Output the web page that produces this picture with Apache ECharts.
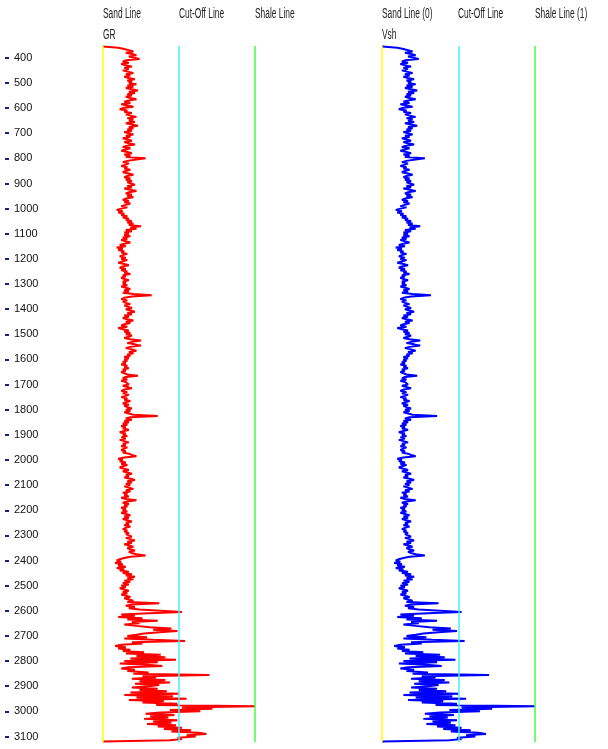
<!DOCTYPE html>
<html>
<head>
<meta charset="utf-8">
<script src="https://cdn.jsdelivr.net/npm/echarts@6/dist/echarts.min.js"></script>
<style>
html,body{margin:0;padding:0;background:#fff;}
#chart{width:608px;height:749px;}
</style>
</head>
<body>
<div id="chart"></div>
<script>
// Depth sampling of the log curves
const DEPTH_START = 355;
const DEPTH_STEP = 5;

// Depth tick labels
const depthTicks = [400,500,600,700,800,900,1000,1100,1200,1300,1400,1500,1600,1700,1800,1900,2000,2100,2200,2300,2400,2500,2600,2700,2800,2900,3000,3100];

// Reference lines
const grLineValues = [20, 70, 120];          // Sand, Cut-Off, Shale (GR track)
const vshLineValues = [0, 0.5, 1];           // Sand (0), Cut-Off, Shale (1)
const lineNamesLeft = ['Sand Line', 'Cut-Off Line', 'Shale Line'];
const lineNamesRight = ['Sand Line (0)', 'Cut-Off Line', 'Shale Line (1)'];

// GR curve values (depth 355 .. 3120, step 5)
const grValues = [
20,30,34,37,40,35,39,42,37,
36,44,35,33,37,32,35,39,34,37,33,36,40,35,38,34,37,41,36,39,
37,42,36,40,35,39,43,37,41,36,39,35,38,42,37,34,38,32,36,40,
33,31,36,34,39,35,38,42,36,40,37,41,35,39,43,37,40,36,39,34,
37,40,35,38,33,36,39,34,37,41,36,33,38,35,32,36,39,34,38,35,
48,42,36,33,37,35,32,36,34,38,35,33,37,40,36,34,38,35,39,36,
37,41,36,39,34,38,42,37,35,39,36,40,35,33,37,34,38,35,32,36,
32,29,33,30,34,32,36,33,37,35,39,36,40,37,45,38,42,35,39,34,
37,34,38,33,36,32,35,38,34,31,35,29,33,30,34,32,36,33,31,35,
32,36,33,30,34,37,33,31,35,32,36,34,38,33,35,32,34,37,33,35,
33,36,32,35,38,34,37,33,40,52,39,34,32,36,33,35,38,34,36,39,
35,38,41,36,39,34,37,33,36,40,35,38,34,32,36,30,33,37,34,38,
35,39,37,34,38,45,39,36,41,45,38,35,39,42,37,40,36,38,34,37,
34,36,33,35,32,36,34,37,33,35,32,34,36,43,35,33,36,32,35,34,
37,33,36,39,34,32,36,33,37,35,32,36,34,38,35,33,37,34,36,39,
35,38,34,37,40,56,38,35,39,34,37,33,36,32,35,33,37,34,31,35,
33,36,32,35,31,34,37,33,35,32,36,34,32,35,33,37,39,42,34,30,
33,31,35,32,36,33,31,34,37,33,36,39,35,37,34,38,41,36,39,35,
38,34,37,40,35,38,33,36,34,37,32,35,42,36,33,37,34,36,32,35,
33,36,32,35,38,34,37,33,36,39,35,37,34,38,35,33,36,34,37,35,
36,39,35,38,41,36,39,34,37,40,36,38,41,37,39,42,48,38,34,31,
29,32,28,33,30,35,29,34,31,37,33,39,35,41,36,40,34,38,33,37,
32,35,31,34,37,33,36,32,35,38,34,37,40,36,57,39,35,41,37,44,
44,72,50,32,41,30,46,36,56,39,44,34,42,51,65,53,69,57,47,42,
36,49,34,53,74,39,46,32,28,35,30,38,33,47,35,58,42,61,38,68,
34,56,31,49,59,37,32,41,36,50,40,90,46,55,39,61,44,64,41,57,
50,39,56,44,62,38,70,34,66,42,75,37,60,46,69,55,120,72,92,64,
84,58,48,67,51,63,47,69,53,65,49,68,56,72,60,78,65,83,88,75,
81,69,72,64,20
];

// Vsh curve values (depth 355 .. 3120, step 5)
const vshValues = [
0,0.10,0.14,0.17,0.20,0.15,0.19,0.22,0.17,
0.16,0.24,0.15,0.13,0.17,0.12,0.15,0.19,0.14,0.17,0.13,0.16,0.20,0.15,0.18,0.14,0.17,0.21,0.16,0.19,
0.17,0.22,0.16,0.20,0.15,0.19,0.23,0.17,0.21,0.16,0.19,0.15,0.18,0.22,0.17,0.14,0.18,0.12,0.16,0.20,
0.13,0.11,0.16,0.14,0.19,0.15,0.18,0.22,0.16,0.20,0.17,0.21,0.15,0.19,0.23,0.17,0.20,0.16,0.19,0.14,
0.17,0.20,0.15,0.18,0.13,0.16,0.19,0.14,0.17,0.21,0.16,0.13,0.18,0.15,0.12,0.16,0.19,0.14,0.18,0.15,
0.28,0.22,0.16,0.13,0.17,0.15,0.12,0.16,0.14,0.18,0.15,0.13,0.17,0.20,0.16,0.14,0.18,0.15,0.19,0.16,
0.17,0.21,0.16,0.19,0.14,0.18,0.22,0.17,0.15,0.19,0.16,0.20,0.15,0.13,0.17,0.14,0.18,0.15,0.12,0.16,
0.12,0.09,0.13,0.10,0.14,0.12,0.16,0.13,0.17,0.15,0.19,0.16,0.20,0.17,0.25,0.18,0.22,0.15,0.19,0.14,
0.17,0.14,0.18,0.13,0.16,0.12,0.15,0.18,0.14,0.11,0.15,0.09,0.13,0.10,0.14,0.12,0.16,0.13,0.11,0.15,
0.12,0.16,0.13,0.10,0.14,0.17,0.13,0.11,0.15,0.12,0.16,0.14,0.18,0.13,0.15,0.12,0.14,0.17,0.13,0.15,
0.13,0.16,0.12,0.15,0.18,0.14,0.17,0.13,0.20,0.32,0.19,0.14,0.12,0.16,0.13,0.15,0.18,0.14,0.16,0.19,
0.15,0.18,0.21,0.16,0.19,0.14,0.17,0.13,0.16,0.20,0.15,0.18,0.14,0.12,0.16,0.10,0.13,0.17,0.14,0.18,
0.15,0.19,0.17,0.14,0.18,0.25,0.19,0.16,0.21,0.25,0.18,0.15,0.19,0.22,0.17,0.20,0.16,0.18,0.14,0.17,
0.14,0.16,0.13,0.15,0.12,0.16,0.14,0.17,0.13,0.15,0.12,0.14,0.16,0.23,0.15,0.13,0.16,0.12,0.15,0.14,
0.17,0.13,0.16,0.19,0.14,0.12,0.16,0.13,0.17,0.15,0.12,0.16,0.14,0.18,0.15,0.13,0.17,0.14,0.16,0.19,
0.15,0.18,0.14,0.17,0.20,0.36,0.18,0.15,0.19,0.14,0.17,0.13,0.16,0.12,0.15,0.13,0.17,0.14,0.11,0.15,
0.13,0.16,0.12,0.15,0.11,0.14,0.17,0.13,0.15,0.12,0.16,0.14,0.12,0.15,0.13,0.17,0.19,0.22,0.14,0.10,
0.13,0.11,0.15,0.12,0.16,0.13,0.11,0.14,0.17,0.13,0.16,0.19,0.15,0.17,0.14,0.18,0.21,0.16,0.19,0.15,
0.18,0.14,0.17,0.20,0.15,0.18,0.13,0.16,0.14,0.17,0.12,0.15,0.22,0.16,0.13,0.17,0.14,0.16,0.12,0.15,
0.13,0.16,0.12,0.15,0.18,0.14,0.17,0.13,0.16,0.19,0.15,0.17,0.14,0.18,0.15,0.13,0.16,0.14,0.17,0.15,
0.16,0.19,0.15,0.18,0.21,0.16,0.19,0.14,0.17,0.20,0.16,0.18,0.21,0.17,0.19,0.22,0.28,0.18,0.14,0.11,
0.09,0.12,0.08,0.13,0.10,0.15,0.09,0.14,0.11,0.17,0.13,0.19,0.15,0.21,0.16,0.20,0.14,0.18,0.13,0.17,
0.12,0.15,0.11,0.14,0.17,0.13,0.16,0.12,0.15,0.18,0.14,0.17,0.20,0.16,0.37,0.19,0.15,0.21,0.17,0.24,
0.24,0.52,0.30,0.12,0.21,0.10,0.26,0.16,0.36,0.19,0.24,0.14,0.22,0.31,0.45,0.33,0.49,0.37,0.27,0.22,
0.16,0.29,0.14,0.33,0.54,0.19,0.26,0.12,0.08,0.15,0.10,0.18,0.13,0.27,0.15,0.38,0.22,0.41,0.18,0.48,
0.14,0.36,0.11,0.29,0.39,0.17,0.12,0.21,0.16,0.30,0.20,0.70,0.26,0.35,0.19,0.41,0.24,0.44,0.21,0.37,
0.30,0.19,0.36,0.24,0.42,0.18,0.50,0.14,0.46,0.22,0.55,0.17,0.40,0.26,0.49,0.35,1.00,0.52,0.72,0.44,
0.64,0.38,0.28,0.47,0.31,0.43,0.27,0.49,0.33,0.45,0.29,0.48,0.36,0.52,0.40,0.58,0.45,0.63,0.68,0.55,
0.61,0.49,0.52,0.44,0
];

const lineColors = ['#ffff00', '#40f0ff', '#40ff40'];
const FONT = '"Liberation Sans", Arial, sans-serif';

const grData = grValues.map((v, i) => [v, DEPTH_START + i * DEPTH_STEP]);
const vshData = vshValues.map((v, i) => [v, DEPTH_START + i * DEPTH_STEP]);

const DMIN = 353, DMAX = 3122;

function markLines(vals) {
  return {
    silent: true,
    symbol: 'none',
    label: { show: false },
    animation: false,
    data: vals.map((v, k) => ({ xAxis: v, lineStyle: { color: lineColors[k], width: 1.5, type: 'solid' } }))
  };
}

function headText(t, x, y) {
  return { type: 'text', x: x, y: y, scaleX: 0.6, scaleY: 1,
    style: { text: t, fontSize: 14, fontFamily: FONT, fill: '#222', textVerticalAlign: 'top', verticalAlign: 'top' } };
}

const graphics = [];
const leftX = [103, 179, 255];
const rightX = [382, 458, 535];
lineNamesLeft.forEach((t, k) => graphics.push(headText(t, leftX[k], 7)));
lineNamesRight.forEach((t, k) => graphics.push(headText(t, rightX[k], 7)));
graphics.push(headText('GR', 103, 28));
graphics.push(headText('Vsh', 382, 28));

const chart = echarts.init(document.getElementById('chart'), null, { renderer: 'canvas' });
chart.setOption({
  backgroundColor: '#ffffff',
  animation: false,
  graphic: graphics,
  grid: [
    { left: 103, top: 46, width: 152, height: 696 },
    { left: 382, top: 46, width: 153, height: 696 }
  ],
  xAxis: [
    { gridIndex: 0, type: 'value', min: grLineValues[0], max: grLineValues[2], show: false },
    { gridIndex: 1, type: 'value', min: vshLineValues[0], max: vshLineValues[2], show: false }
  ],
  yAxis: [
    {
      gridIndex: 0, type: 'value', inverse: true, min: DMIN, max: DMAX,
      position: 'left', offset: 94,
      axisLine: { show: false },
      splitLine: { show: false },
      axisTick: { show: true, length: 4, customValues: depthTicks, lineStyle: { color: '#1a1a8a', width: 2 } },
      axisLabel: { show: true, inside: true, margin: 5, customValues: depthTicks, color: '#111', fontSize: 11, fontFamily: FONT,
        formatter: v => String(v) }
    },
    { gridIndex: 1, type: 'value', inverse: true, min: DMIN, max: DMAX, show: false }
  ],
  series: [
    { type: 'line', xAxisIndex: 0, yAxisIndex: 0, data: [], z: 1, markLine: markLines(grLineValues) },
    { type: 'line', xAxisIndex: 1, yAxisIndex: 1, data: [], z: 1, markLine: markLines(vshLineValues) },
    { name: 'GR', type: 'line', xAxisIndex: 0, yAxisIndex: 0, data: grData, z: 3, showSymbol: false, symbol: 'none',
      lineStyle: { color: '#ff0000', width: 2 }, silent: true },
    { name: 'Vsh', type: 'line', xAxisIndex: 1, yAxisIndex: 1, data: vshData, z: 3, showSymbol: false, symbol: 'none',
      lineStyle: { color: '#0000ff', width: 2 }, silent: true }
  ]
});
</script>
</body>
</html>
